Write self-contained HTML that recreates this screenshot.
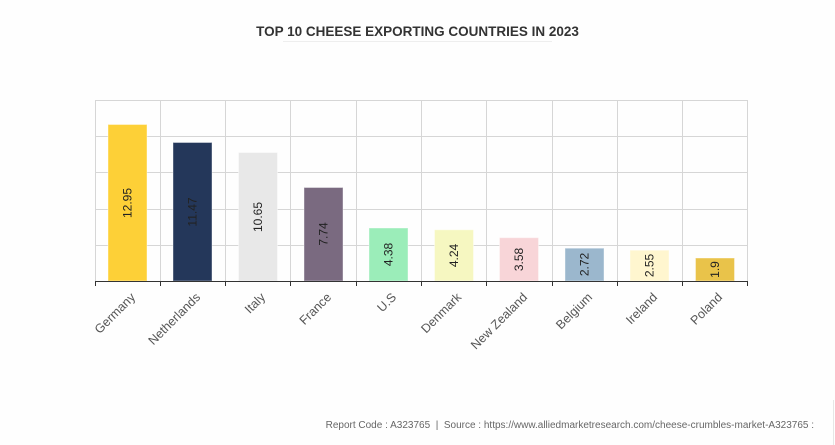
<!DOCTYPE html>
<html><head><meta charset="utf-8"><style>
html,body{margin:0;padding:0;background:#fefefe;}
svg{display:block;font-family:"Liberation Sans",Arial,sans-serif;}
</style></head><body>
<svg width="835" height="445" viewBox="0 0 835 445" xmlns="http://www.w3.org/2000/svg">
<rect width="835" height="445" fill="#fefefe"/>
<text x="417.5" y="36" text-anchor="middle" font-size="13.5" font-weight="bold" fill="#333">TOP 10 CHEESE EXPORTING COUNTRIES IN 2023</text>
<line x1="283" y1="41.5" x2="552" y2="41.5" stroke="#eee" stroke-width="1"/>
<g stroke="#d6d6d6" stroke-width="1">
<line x1="95" y1="100.5" x2="748" y2="100.5"/>
<line x1="95" y1="136.5" x2="748" y2="136.5"/>
<line x1="95" y1="172.5" x2="748" y2="172.5"/>
<line x1="95" y1="209.5" x2="748" y2="209.5"/>
<line x1="95" y1="245.5" x2="748" y2="245.5"/>
<line x1="95.5" y1="100" x2="95.5" y2="281"/>
<line x1="160.5" y1="100" x2="160.5" y2="281"/>
<line x1="225.5" y1="100" x2="225.5" y2="281"/>
<line x1="290.5" y1="100" x2="290.5" y2="281"/>
<line x1="356.5" y1="100" x2="356.5" y2="281"/>
<line x1="421.5" y1="100" x2="421.5" y2="281"/>
<line x1="486.5" y1="100" x2="486.5" y2="281"/>
<line x1="552.5" y1="100" x2="552.5" y2="281"/>
<line x1="617.5" y1="100" x2="617.5" y2="281"/>
<line x1="682.5" y1="100" x2="682.5" y2="281"/>
<line x1="747.5" y1="100" x2="747.5" y2="281"/>
</g>
<g stroke="#fff" stroke-opacity="0.4">
<rect x="108" y="124.5" width="39" height="156.5" fill="#fdd037"/>
<rect x="173" y="142.5" width="39" height="138.5" fill="#24375a"/>
<rect x="238.5" y="152.5" width="39" height="128.5" fill="#e8e8e8"/>
<rect x="304" y="187.5" width="39" height="93.5" fill="#7a6a80"/>
<rect x="369" y="228" width="39" height="53" fill="#9bedb9"/>
<rect x="434.5" y="229.8" width="39" height="51.2" fill="#f6f7c1"/>
<rect x="499.5" y="237.7" width="39" height="43.3" fill="#f8d5d8"/>
<rect x="565" y="248.2" width="39" height="32.8" fill="#9bb7cd"/>
<rect x="630" y="250.2" width="39" height="30.8" fill="#fff6cf"/>
<rect x="695.5" y="258" width="39" height="23" fill="#e9c34a"/>
</g>
<g font-size="12" fill="#222" text-anchor="middle">
<text transform="translate(131.5,203) rotate(-90)">12.95</text>
<text transform="translate(196.5,212) rotate(-90)">11.47</text>
<text transform="translate(262,217) rotate(-90)">10.65</text>
<text transform="translate(327.5,234) rotate(-90)">7.74</text>
<text transform="translate(392.5,254.5) rotate(-90)">4.38</text>
<text transform="translate(458,255.5) rotate(-90)">4.24</text>
<text transform="translate(523,259.5) rotate(-90)">3.58</text>
<text transform="translate(588.5,264.5) rotate(-90)">2.72</text>
<text transform="translate(653.5,265.5) rotate(-90)">2.55</text>
<text transform="translate(719,269.5) rotate(-90)">1.9</text>
</g>
<line x1="95" y1="281.5" x2="748" y2="281.5" stroke="#333" stroke-width="1"/>
<g stroke="#333">
<line x1="95.5" y1="281" x2="95.5" y2="286"/>
<line x1="160.5" y1="281" x2="160.5" y2="286"/>
<line x1="225.5" y1="281" x2="225.5" y2="286"/>
<line x1="290.5" y1="281" x2="290.5" y2="286"/>
<line x1="356.5" y1="281" x2="356.5" y2="286"/>
<line x1="421.5" y1="281" x2="421.5" y2="286"/>
<line x1="486.5" y1="281" x2="486.5" y2="286"/>
<line x1="552.5" y1="281" x2="552.5" y2="286"/>
<line x1="617.5" y1="281" x2="617.5" y2="286"/>
<line x1="682.5" y1="281" x2="682.5" y2="286"/>
<line x1="747.5" y1="281" x2="747.5" y2="286"/>
</g>
<g font-size="12.5" fill="#555" text-anchor="end">
<text transform="translate(136,298) rotate(-45)">Germany</text>
<text transform="translate(201,298) rotate(-45)">Netherlands</text>
<text transform="translate(266,298) rotate(-45)">Italy</text>
<text transform="translate(332,298) rotate(-45)">France</text>
<text transform="translate(397,298) rotate(-45)">U.S</text>
<text transform="translate(462,298) rotate(-45)">Denmark</text>
<text transform="translate(528,298) rotate(-45)">New Zealand</text>
<text transform="translate(593,298) rotate(-45)">Belgium</text>
<text transform="translate(658,298) rotate(-45)">Ireland</text>
<text transform="translate(723,298) rotate(-45)">Poland</text>
</g>
<text x="814" y="428" text-anchor="end" font-size="10" fill="#666" xml:space="preserve" style="white-space:pre">Report Code : A323765  |  Source : https://www.alliedmarketresearch.com/cheese-crumbles-market-A323765 :</text>
<line x1="833.5" y1="400" x2="833.5" y2="445" stroke="#e6e6e6"/>
</svg>
</body></html>
